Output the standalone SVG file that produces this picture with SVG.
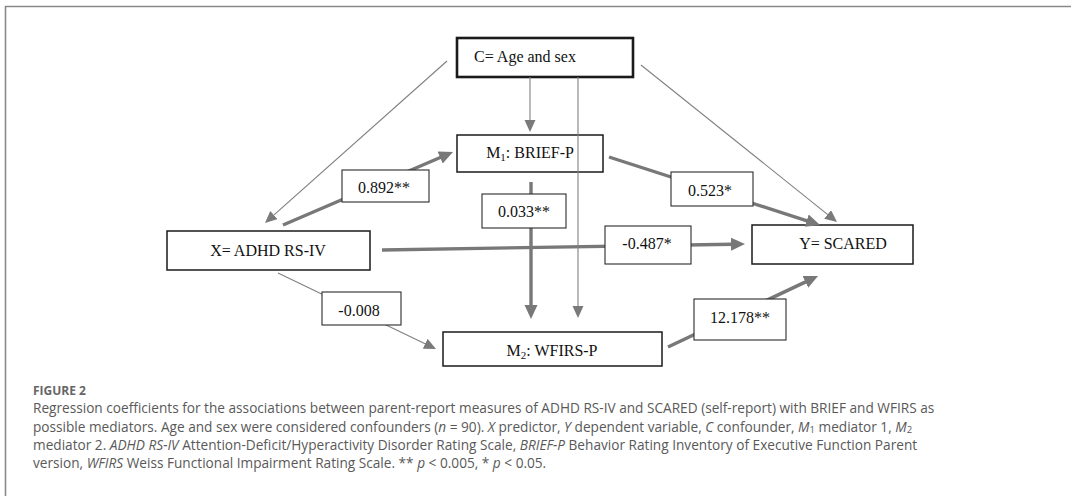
<svg xmlns="http://www.w3.org/2000/svg" width="1071" height="496" viewBox="0 0 1071 496">
  <defs>
    <style>
      .frame { fill: none; stroke: #8a8a8a; stroke-width: 1.6; }
      .node rect { fill: #fff; stroke: #1a1a1a; stroke-width: 1.5; }
      .node text, .lbl text { font-family: "Liberation Serif", "Times New Roman", serif; font-size: 16px; fill: #111; text-anchor: middle; }
      .sub { font-size: 11px; }
      .thin { stroke: #808080; stroke-width: 1.1; fill: none; marker-end: url(#ahThin); }
      .thick { stroke: #787878; stroke-width: 3.4; fill: none; marker-end: url(#ahThick); }
      .lbl rect { fill: #fff; stroke: #2a2a2a; stroke-width: 1.1; }
      .cap { font-family: "Open Sans", "Liberation Sans", sans-serif; font-size: 13.65px; fill: #595959; }
      .capsub { font-size: 9.5px; }
      .caphead { font-family: "Open Sans", "Liberation Sans", sans-serif; font-size: 12px; font-weight: bold; fill: #666; }
      .it { font-style: italic; }
    </style>
    <marker id="ahThin" markerUnits="userSpaceOnUse" markerWidth="14" markerHeight="13" refX="1" refY="5.5" orient="auto">
      <path d="M0,0 L12,5.5 L0,11 z" fill="#7a7a7a"/>
    </marker>
    <marker id="ahThick" markerUnits="userSpaceOnUse" markerWidth="16" markerHeight="15" refX="2" refY="6.5" orient="auto">
      <path d="M0,0 L14,6.5 L0,13 z" fill="#787878"/>
    </marker>
  </defs>

  <rect width="1071" height="496" fill="#fff"/>
  <!-- figure frame: top and left rules -->
  <path class="frame" d="M5.5,496 V6.5 H1071"/>

  <!-- nodes -->
  <g id="node-c" class="node">
    <rect x="457" y="38" width="176" height="39" style="stroke-width:2.6"/>
    <text x="525" y="62">C= Age and sex</text>
  </g>
  <g id="node-m1" class="node">
    <rect x="457" y="135" width="146" height="37"/>
    <text x="530" y="158">M<tspan class="sub" dy="3">1</tspan><tspan dy="-3">: BRIEF-P</tspan></text>
  </g>
  <g id="node-x" class="node">
    <rect x="167" y="231" width="203" height="39"/>
    <text x="268" y="256">X= ADHD RS-IV</text>
  </g>
  <g id="node-y" class="node">
    <rect x="752" y="225" width="161" height="39"/>
    <text x="843" y="249">Y= SCARED</text>
  </g>
  <g id="node-m2" class="node">
    <rect x="443" y="332" width="219" height="34"/>
    <text x="552" y="356">M<tspan class="sub" dy="3">2</tspan><tspan dy="-3">: WFIRS-P</tspan></text>
  </g>

  <!-- connectors with coefficient labels -->
  <g id="connectors">
    <line class="thin" x1="447" y1="61" x2="273.2" y2="215.7"/>
    <line class="thin" x1="530" y1="77" x2="530" y2="121"/>
    <line class="thin" x1="641" y1="65" x2="828.4" y2="215.1"/>
    <line class="thin" x1="278" y1="273" x2="426.1" y2="344.2"/>
    <line class="thick" x1="283" y1="225" x2="442" y2="156.7"/>
    <line class="thick" x1="531" y1="182" x2="531" y2="307"/>
    <line class="thick" x1="382" y1="250" x2="733" y2="244.2"/>
    <line class="thick" x1="609" y1="157" x2="808.6" y2="221.3"/>
    <line class="thick" x1="668" y1="347" x2="807.2" y2="281.1"/>
    <line class="thin" x1="578" y1="77" x2="578" y2="307"/>

    <g class="lbl" id="lbl-a1">
      <rect x="342" y="170" width="87" height="32"/>
      <text x="384" y="193">0.892**</text>
    </g>
    <g class="lbl" id="lbl-d21">
      <rect x="482" y="194" width="84" height="34"/>
      <text x="524" y="217">0.033**</text>
    </g>
    <g class="lbl" id="lbl-b1">
      <rect x="671" y="172" width="82" height="34"/>
      <text x="710" y="196">0.523*</text>
    </g>
    <g class="lbl" id="lbl-c">
      <rect x="605" y="226" width="86" height="38"/>
      <text x="647" y="249">-0.487*</text>
    </g>
    <g class="lbl" id="lbl-a2">
      <rect x="322" y="292" width="79" height="33"/>
      <text x="359" y="316">-0.008</text>
    </g>
    <g class="lbl" id="lbl-b2">
      <rect x="694" y="299" width="92" height="41"/>
      <text x="740" y="323">12.178**</text>
    </g>
  </g>

  <!-- caption -->
  <text class="caphead" x="33" y="395">FIGURE 2</text>
  <text class="cap" x="33" y="413">Regression coefficients for the associations between parent-report measures of ADHD RS-IV and SCARED (self-report) with BRIEF and WFIRS as</text>
  <text class="cap" x="33" y="432">possible mediators. Age and sex were considered confounders (<tspan class="it">n</tspan> = 90). <tspan class="it">X</tspan> predictor, <tspan class="it">Y</tspan> dependent variable, <tspan class="it">C</tspan> confounder, <tspan class="it">M</tspan><tspan class="capsub" dy="1">1</tspan><tspan dy="-1"> mediator 1, </tspan><tspan class="it">M</tspan><tspan class="capsub" dy="1">2</tspan></text>
  <text class="cap" x="33" y="450">mediator 2. <tspan class="it">ADHD RS-IV</tspan> Attention-Deficit/Hyperactivity Disorder Rating Scale, <tspan class="it">BRIEF-P</tspan> Behavior Rating Inventory of Executive Function Parent</text>
  <text class="cap" x="33" y="468">version, <tspan class="it">WFIRS</tspan> Weiss Functional Impairment Rating Scale. ** <tspan class="it">p</tspan> &lt; 0.005, * <tspan class="it">p</tspan> &lt; 0.05.</text>
</svg>
